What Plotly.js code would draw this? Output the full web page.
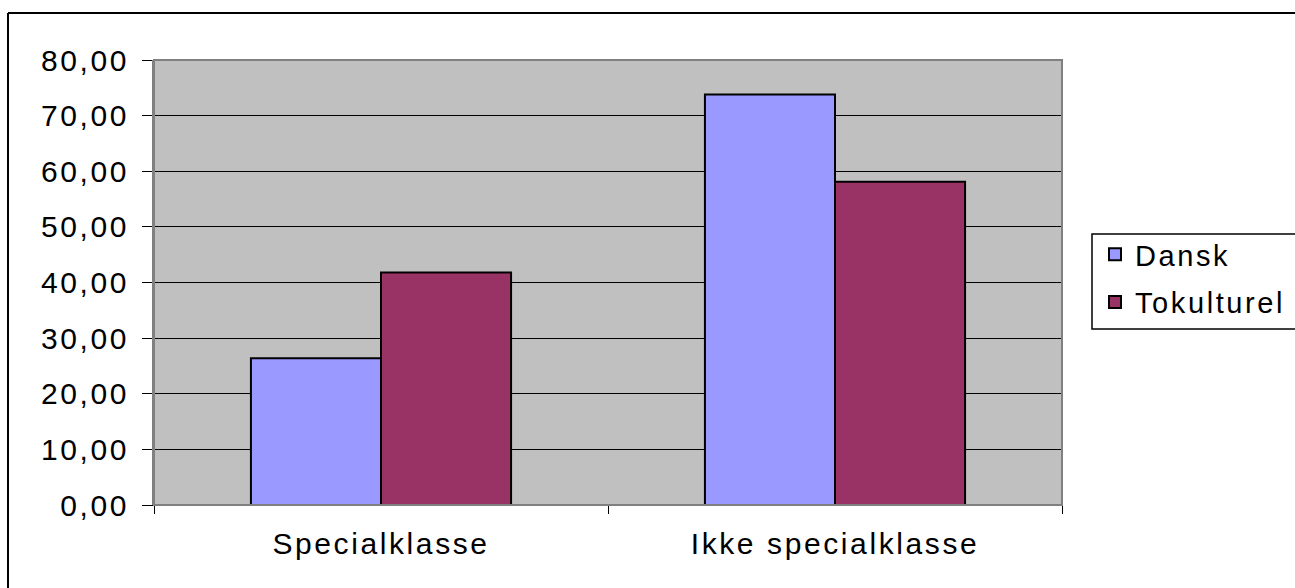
<!DOCTYPE html>
<html>
<head>
<meta charset="utf-8">
<script src="https://cdn.plot.ly/plotly-3.0.1.min.js"></script>
<style>
html,body{margin:0;padding:0;background:#fff;overflow:hidden;}
#chart{width:1295px;height:588px;}
#chart .xtick text, #chart .ytick text, #chart text.legendtext { letter-spacing: 2.6px; }
#chart .legend .scrollbox, #chart .legend { clip-path: none !important; }
</style>
</head>
<body>
<div id="chart"></div>
<script>
var categories = ["Specialklasse", "Ikke specialklasse"];
var dansk = [26.4, 73.8];
var tokulturel = [41.8, 58.1];
var seriesNames = ["Dansk", "Tokulturel"];
var yTickValues = [0, 10, 20, 30, 40, 50, 60, 70, 80];

var FONT = "Liberation Sans, Arial, sans-serif";

// plot area in pixels: x 154..1062, y 60..505
function px(x) { return (x - 154) / 908; }
function py(y) { return (505 - y) / 445; }

var traces = [
  {type: "bar", name: seriesNames[0], x: categories, y: dansk, legendgroup: "a",
   marker: {color: "#9999FF", line: {color: "#000000", width: 2}}, hoverinfo: "y"},
  {type: "bar", name: seriesNames[1], x: categories, y: tokulturel, legendgroup: "b",
   marker: {color: "#993366", line: {color: "#000000", width: 2}}, hoverinfo: "y"}
];

var layout = {
  width: 1295, height: 588,
  margin: {l: 154, r: 233, t: 60, b: 83, pad: 0, autoexpand: false},
  paper_bgcolor: "#ffffff",
  plot_bgcolor: "#C0C0C0",
  font: {family: FONT, size: 30, color: "#000"},
  separators: ",.",
  barmode: "group",
  bargap: 0.427,
  bargroupgap: 0,
  showlegend: true,
  legend: {
    x: px(1095), xanchor: "left", y: py(229), yanchor: "top",
    bgcolor: "rgba(0,0,0,0)", bordercolor: "rgba(0,0,0,0)", borderwidth: 0,
    font: {family: FONT, size: 29, color: "#000"},
    itemwidth: 30, tracegroupgap: 7
  },
  xaxis: {
    type: "category",
    showline: true, linecolor: "#000000", linewidth: 1,
    ticks: "outside", ticklen: 8, tickcolor: "#000000", tickwidth: 1,
    tickson: "boundaries",
    ticklabelstandoff: 12,
    showgrid: false, zeroline: false,
    tickfont: {family: FONT, size: 30, color: "#000"}
  },
  yaxis: {
    range: [0, 80],
    tickvals: yTickValues,
    tickformat: ".2f",
    showline: true, linecolor: "#808080", linewidth: 2,
    ticks: "outside", ticklen: 10, tickcolor: "#000000", tickwidth: 1,
    showgrid: true, gridcolor: "#000000", gridwidth: 1,
    zeroline: false,
    ticklabelstandoff: 7,
    tickfont: {family: FONT, size: 30, color: "#000"}
  },
  shapes: [
    {type: "rect", xref: "paper", yref: "paper", x0: 0, x1: 1, y0: 0, y1: 1,
     line: {color: "#808080", width: 2}, fillcolor: "rgba(0,0,0,0)", layer: "above"},
    {type: "line", xref: "paper", yref: "paper", x0: px(8), x1: px(1300), y0: py(13), y1: py(13),
     line: {color: "#000000", width: 2}},
    {type: "line", xref: "paper", yref: "paper", x0: px(8), x1: px(8), y0: py(13), y1: py(600),
     line: {color: "#000000", width: 2}},
    {type: "rect", xref: "paper", yref: "paper", x0: px(1092), x1: px(1300), y0: py(329), y1: py(234),
     line: {color: "#000000", width: 1.5}, fillcolor: "#ffffff", layer: "above"}
  ]
};

Plotly.newPlot("chart", traces, layout, {displayModeBar: false, staticPlot: true});
</script>
</body>
</html>
